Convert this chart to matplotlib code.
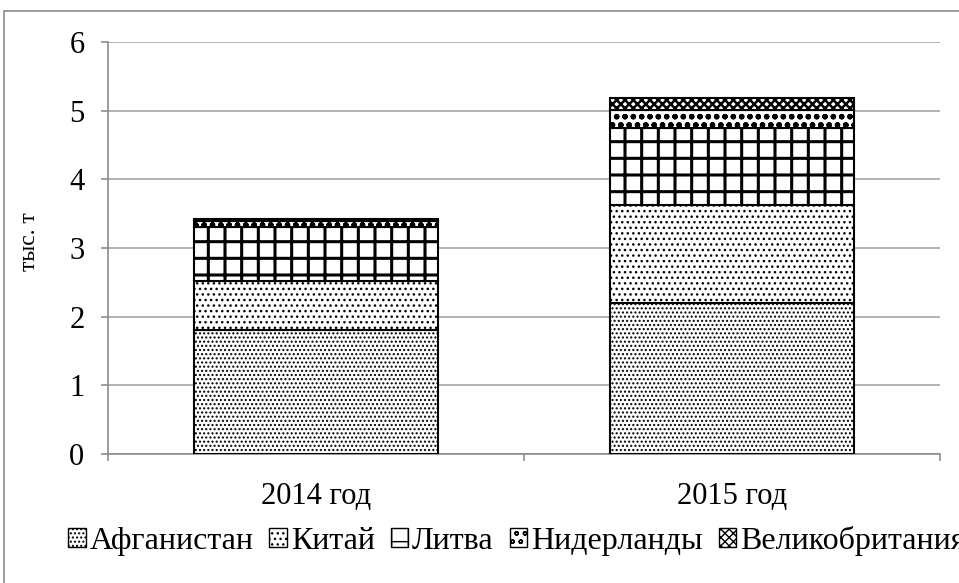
import matplotlib
matplotlib.use("Agg")
import numpy as np
import matplotlib.pyplot as plt
from matplotlib.patches import Rectangle

# данные (тыс. т)
years = ["2014 год", "2015 год"]
countries = ["Афганистан", "Китай", "Литва", "Нидерланды", "Великобритания"]
afghanistan = [1.8, 2.2]
china = [0.72, 1.43]
lithuania = [0.78, 1.12]
netherlands = [0.1, 0.26]
britain = [0.02, 0.17]

hatches = ["....", "...", "+", "oo", "xxxx"]
hatch_lw = [1.0, 1.0, 2.2, 1.6, 1.8]

plt.rcParams["font.family"] = ["Liberation Serif", "DejaVu Serif"]

fig = plt.figure(figsize=(9.59, 5.83), dpi=100)
ax = fig.add_axes([108 / 959, 1 - 454 / 583, 832 / 959, 412 / 583])

# рамка всей диаграммы
fig.patches.append(Rectangle((4 / 959, -0.5), 2, 1.5 - 11 / 583, transform=fig.transFigure,
                             fill=False, edgecolor="#8c8c8c", linewidth=1.2))

x = np.arange(len(years))
bottom = np.zeros(len(years))
series = [afghanistan, china, lithuania, netherlands, britain]
handles = []
for name, vals, h, hl in zip(countries, series, hatches, hatch_lw):
    with plt.rc_context({"hatch.linewidth": hl}):
        bars = ax.bar(x, vals, 0.585, bottom=bottom, color="white", edgecolor="black",
                      hatch=h, linewidth=1.5, label=name, zorder=3)
    handles.append(bars)
    bottom += np.array(vals)

ax.set_xlim(-0.5, 1.5)
ax.set_ylim(0, 6)
ax.set_yticks(range(0, 7))
ax.grid(axis="y", color="#a6a6a6", linewidth=1.2, zorder=0)

for s in ["top", "right"]:
    ax.spines[s].set_visible(False)
for s in ["left", "bottom"]:
    ax.spines[s].set_color("#8c8c8c")
    ax.spines[s].set_linewidth(1.2)

ax.set_xticks(x)
ax.set_xticklabels(years)
ax.set_xticks([-0.5, 0.5, 1.5], minor=True)
ax.tick_params(axis="x", which="major", length=0, pad=20, labelsize=22)
ax.tick_params(axis="x", which="minor", length=5, width=1.2, color="#8c8c8c")
ax.tick_params(axis="y", length=5, width=1.2, color="#8c8c8c", pad=12, labelsize=22)

ax.set_ylabel("тыс. т", fontsize=17)
ax.yaxis.set_label_coords(-0.082, 0.515)

# легенда уходит за правый край, как в оригинале
leg = fig.legend(handles=handles, labels=countries, loc="center left",
                 bbox_to_anchor=(68 / 959, 1 - 541 / 583), ncol=5, frameon=False,
                 fontsize=23, handlelength=0.55, handleheight=0.55, handletextpad=0.12,
                 columnspacing=0.5, borderpad=0, borderaxespad=0)
for p in leg.get_patches():
    p.set_linewidth(1.0)

fig.savefig("out.png", dpi=100)
